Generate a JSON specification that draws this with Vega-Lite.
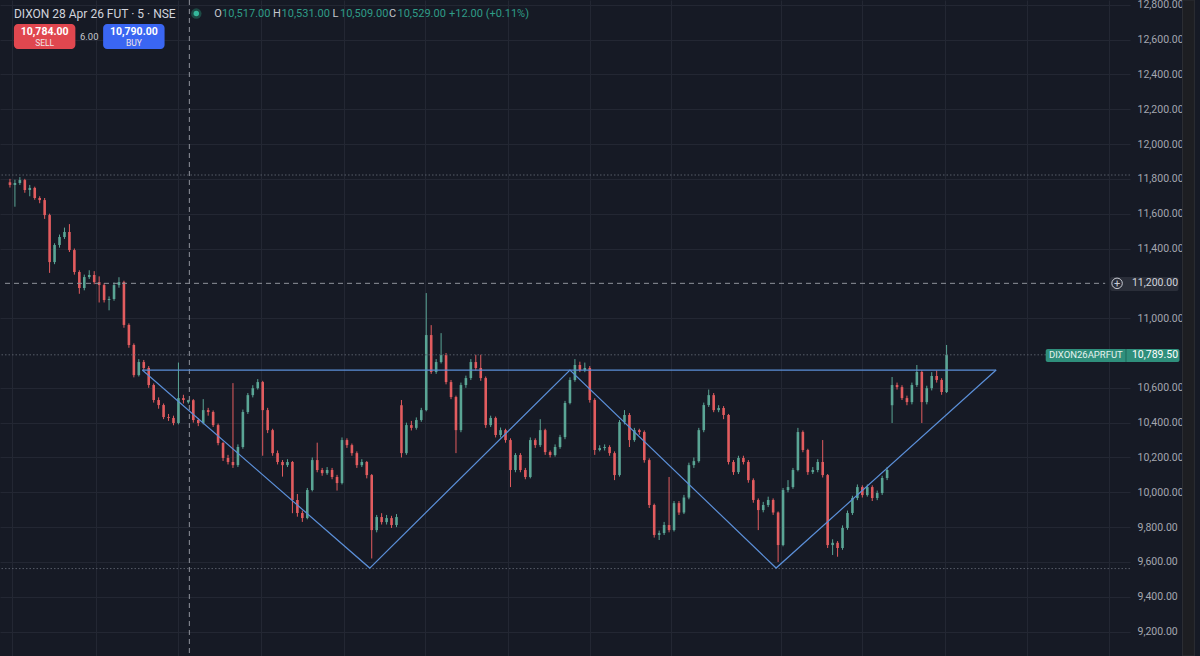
{
  "$schema": "https://vega.github.io/schema/vega-lite/v6.json",
  "width": 1130,
  "height": 656,
  "autosize": "none",
  "padding": {"left": 0, "top": 0, "right": 70, "bottom": 0},
  "background": "#161a25",
  "config": {"view": {"stroke": null}, "text": {"font": "Roboto"}},
  "datasets": {
    "candles": [
      {"t":1,"o":11780,"h":11800,"l":11750,"c":11765},
      {"t":2,"o":11765,"h":11795,"l":11640,"c":11776},
      {"t":3,"o":11776,"h":11810,"l":11765,"c":11793},
      {"t":4,"o":11793,"h":11800,"l":11720,"c":11736},
      {"t":5,"o":11736,"h":11765,"l":11700,"c":11748},
      {"t":6,"o":11748,"h":11755,"l":11680,"c":11690},
      {"t":7,"o":11690,"h":11700,"l":11660,"c":11678},
      {"t":8,"o":11678,"h":11690,"l":11570,"c":11592},
      {"t":9,"o":11592,"h":11600,"l":11260,"c":11322},
      {"t":10,"o":11322,"h":11430,"l":11310,"c":11420},
      {"t":11,"o":11420,"h":11480,"l":11405,"c":11466},
      {"t":12,"o":11466,"h":11520,"l":11455,"c":11495},
      {"t":13,"o":11495,"h":11540,"l":11380,"c":11391},
      {"t":14,"o":11391,"h":11400,"l":11250,"c":11265},
      {"t":15,"o":11265,"h":11275,"l":11140,"c":11173},
      {"t":16,"o":11173,"h":11250,"l":11160,"c":11236},
      {"t":17,"o":11236,"h":11275,"l":11225,"c":11248},
      {"t":18,"o":11248,"h":11270,"l":11195,"c":11207},
      {"t":19,"o":11207,"h":11240,"l":11090,"c":11190},
      {"t":20,"o":11190,"h":11200,"l":11090,"c":11104},
      {"t":21,"o":11104,"h":11125,"l":11045,"c":11110},
      {"t":22,"o":11110,"h":11205,"l":11100,"c":11190},
      {"t":23,"o":11190,"h":11235,"l":11175,"c":11207},
      {"t":24,"o":11207,"h":11215,"l":10945,"c":10961},
      {"t":25,"o":10961,"h":10970,"l":10830,"c":10846},
      {"t":26,"o":10846,"h":10855,"l":10660,"c":10673},
      {"t":27,"o":10673,"h":10765,"l":10665,"c":10748},
      {"t":28,"o":10748,"h":10760,"l":10700,"c":10714},
      {"t":29,"o":10714,"h":10725,"l":10600,"c":10616},
      {"t":30,"o":10616,"h":10625,"l":10515,"c":10530},
      {"t":31,"o":10530,"h":10545,"l":10480,"c":10501},
      {"t":32,"o":10501,"h":10510,"l":10420,"c":10432},
      {"t":33,"o":10432,"h":10450,"l":10410,"c":10427},
      {"t":34,"o":10427,"h":10440,"l":10385,"c":10398},
      {"t":35,"o":10398,"h":10745,"l":10390,"c":10541},
      {"t":36,"o":10541,"h":10560,"l":10510,"c":10530},
      {"t":37,"o":10517,"h":10531,"l":10509,"c":10529},
      {"t":38,"o":10529,"h":10535,"l":10400,"c":10415},
      {"t":39,"o":10415,"h":10425,"l":10380,"c":10398},
      {"t":40,"o":10398,"h":10535,"l":10390,"c":10472},
      {"t":41,"o":10472,"h":10485,"l":10440,"c":10461},
      {"t":42,"o":10461,"h":10470,"l":10375,"c":10386},
      {"t":43,"o":10386,"h":10395,"l":10270,"c":10283},
      {"t":44,"o":10283,"h":10290,"l":10180,"c":10197},
      {"t":45,"o":10197,"h":10215,"l":10160,"c":10174},
      {"t":46,"o":10174,"h":10627,"l":10140,"c":10156},
      {"t":47,"o":10156,"h":10275,"l":10145,"c":10260},
      {"t":48,"o":10260,"h":10475,"l":10250,"c":10461},
      {"t":49,"o":10461,"h":10570,"l":10450,"c":10558},
      {"t":50,"o":10558,"h":10615,"l":10545,"c":10598},
      {"t":51,"o":10598,"h":10650,"l":10590,"c":10633},
      {"t":52,"o":10633,"h":10640,"l":10210,"c":10472},
      {"t":53,"o":10472,"h":10485,"l":10340,"c":10357},
      {"t":54,"o":10357,"h":10365,"l":10210,"c":10225},
      {"t":55,"o":10225,"h":10240,"l":10160,"c":10174},
      {"t":56,"o":10174,"h":10185,"l":10090,"c":10156},
      {"t":57,"o":10156,"h":10190,"l":10145,"c":10174},
      {"t":58,"o":10174,"h":10180,"l":9880,"c":9956},
      {"t":59,"o":9956,"h":9990,"l":9860,"c":9881},
      {"t":60,"o":9881,"h":9895,"l":9830,"c":9852},
      {"t":61,"o":9852,"h":10025,"l":9845,"c":10013},
      {"t":62,"o":10013,"h":10200,"l":10005,"c":10185},
      {"t":63,"o":10185,"h":10285,"l":10115,"c":10128},
      {"t":64,"o":10128,"h":10140,"l":10095,"c":10110},
      {"t":65,"o":10110,"h":10145,"l":10100,"c":10128},
      {"t":66,"o":10128,"h":10140,"l":10075,"c":10088},
      {"t":67,"o":10088,"h":10100,"l":10010,"c":10053},
      {"t":68,"o":10053,"h":10315,"l":10045,"c":10300},
      {"t":69,"o":10300,"h":10310,"l":10255,"c":10271},
      {"t":70,"o":10271,"h":10280,"l":10210,"c":10225},
      {"t":71,"o":10225,"h":10235,"l":10140,"c":10156},
      {"t":72,"o":10156,"h":10190,"l":10145,"c":10174},
      {"t":73,"o":10174,"h":10180,"l":10080,"c":10099},
      {"t":74,"o":10099,"h":10105,"l":9620,"c":9783},
      {"t":75,"o":9783,"h":9870,"l":9770,"c":9858},
      {"t":76,"o":9858,"h":9880,"l":9815,"c":9829},
      {"t":77,"o":9829,"h":9870,"l":9815,"c":9852},
      {"t":78,"o":9852,"h":9865,"l":9795,"c":9812},
      {"t":79,"o":9812,"h":9875,"l":9800,"c":9858},
      {"t":80,"o":10500,"h":10530,"l":10200,"c":10225},
      {"t":81,"o":10225,"h":10400,"l":10215,"c":10386},
      {"t":82,"o":10386,"h":10410,"l":10355,"c":10370},
      {"t":83,"o":10370,"h":10430,"l":10360,"c":10415},
      {"t":84,"o":10415,"h":10485,"l":10405,"c":10472},
      {"t":85,"o":10472,"h":11144,"l":10465,"c":10903},
      {"t":86,"o":10903,"h":10960,"l":10680,"c":10691},
      {"t":87,"o":10691,"h":10765,"l":10680,"c":10748},
      {"t":88,"o":10748,"h":10914,"l":10740,"c":10788},
      {"t":89,"o":10788,"h":10800,"l":10620,"c":10633},
      {"t":90,"o":10633,"h":10645,"l":10535,"c":10547},
      {"t":91,"o":10547,"h":10555,"l":10225,"c":10357},
      {"t":92,"o":10357,"h":10630,"l":10345,"c":10616},
      {"t":93,"o":10616,"h":10670,"l":10600,"c":10656},
      {"t":94,"o":10656,"h":10765,"l":10645,"c":10748},
      {"t":95,"o":10748,"h":10790,"l":10700,"c":10714},
      {"t":96,"o":10714,"h":10790,"l":10640,"c":10656},
      {"t":97,"o":10656,"h":10665,"l":10370,"c":10386},
      {"t":98,"o":10386,"h":10440,"l":10375,"c":10427},
      {"t":99,"o":10427,"h":10435,"l":10315,"c":10329},
      {"t":100,"o":10329,"h":10372,"l":10315,"c":10357},
      {"t":101,"o":10357,"h":10365,"l":10285,"c":10300},
      {"t":102,"o":10300,"h":10310,"l":10030,"c":10128},
      {"t":103,"o":10128,"h":10225,"l":10115,"c":10214},
      {"t":104,"o":10214,"h":10225,"l":10115,"c":10128},
      {"t":105,"o":10128,"h":10140,"l":10075,"c":10088},
      {"t":106,"o":10088,"h":10315,"l":10080,"c":10300},
      {"t":107,"o":10300,"h":10310,"l":10255,"c":10271},
      {"t":108,"o":10271,"h":10420,"l":10260,"c":10357},
      {"t":109,"o":10357,"h":10365,"l":10215,"c":10231},
      {"t":110,"o":10231,"h":10240,"l":10200,"c":10214},
      {"t":111,"o":10214,"h":10275,"l":10205,"c":10260},
      {"t":112,"o":10260,"h":10330,"l":10250,"c":10317},
      {"t":113,"o":10317,"h":10525,"l":10305,"c":10513},
      {"t":114,"o":10513,"h":10660,"l":10505,"c":10645},
      {"t":115,"o":10645,"h":10765,"l":10635,"c":10731},
      {"t":116,"o":10731,"h":10750,"l":10690,"c":10702},
      {"t":117,"o":10702,"h":10745,"l":10690,"c":10714},
      {"t":118,"o":10714,"h":10725,"l":10515,"c":10530},
      {"t":119,"o":10530,"h":10540,"l":10215,"c":10243},
      {"t":120,"o":10243,"h":10270,"l":10235,"c":10254},
      {"t":121,"o":10254,"h":10275,"l":10240,"c":10260},
      {"t":122,"o":10260,"h":10270,"l":10210,"c":10225},
      {"t":123,"o":10225,"h":10235,"l":10070,"c":10099},
      {"t":124,"o":10099,"h":10415,"l":10090,"c":10403},
      {"t":125,"o":10403,"h":10472,"l":10390,"c":10444},
      {"t":126,"o":10444,"h":10455,"l":10260,"c":10300},
      {"t":127,"o":10300,"h":10370,"l":10290,"c":10357},
      {"t":128,"o":10357,"h":10365,"l":10330,"c":10346},
      {"t":129,"o":10346,"h":10355,"l":10170,"c":10185},
      {"t":130,"o":10185,"h":10195,"l":9910,"c":9927},
      {"t":131,"o":9927,"h":9935,"l":9740,"c":9755},
      {"t":132,"o":9755,"h":9780,"l":9726,"c":9766},
      {"t":133,"o":9766,"h":9830,"l":9755,"c":9812},
      {"t":134,"o":9812,"h":10088,"l":9770,"c":9783},
      {"t":135,"o":9783,"h":9950,"l":9775,"c":9938},
      {"t":136,"o":9938,"h":9950,"l":9870,"c":9884},
      {"t":137,"o":9884,"h":9985,"l":9875,"c":9970},
      {"t":138,"o":9970,"h":10170,"l":9960,"c":10156},
      {"t":139,"o":10156,"h":10200,"l":10140,"c":10179},
      {"t":140,"o":10179,"h":10370,"l":10170,"c":10357},
      {"t":141,"o":10357,"h":10515,"l":10345,"c":10501},
      {"t":142,"o":10501,"h":10590,"l":10490,"c":10558},
      {"t":143,"o":10558,"h":10570,"l":10460,"c":10472},
      {"t":144,"o":10472,"h":10500,"l":10460,"c":10484},
      {"t":145,"o":10484,"h":10495,"l":10420,"c":10444},
      {"t":146,"o":10444,"h":10450,"l":10160,"c":10174},
      {"t":147,"o":10174,"h":10185,"l":10100,"c":10116},
      {"t":148,"o":10116,"h":10210,"l":10105,"c":10197},
      {"t":149,"o":10197,"h":10210,"l":10160,"c":10174},
      {"t":150,"o":10174,"h":10185,"l":10055,"c":10070},
      {"t":151,"o":10070,"h":10080,"l":9940,"c":9956},
      {"t":152,"o":9956,"h":9965,"l":9783,"c":9898},
      {"t":153,"o":9898,"h":9945,"l":9885,"c":9927},
      {"t":154,"o":9927,"h":9975,"l":9915,"c":9956},
      {"t":155,"o":9956,"h":9965,"l":9870,"c":9884},
      {"t":156,"o":9884,"h":9890,"l":9600,"c":9697},
      {"t":157,"o":9697,"h":10025,"l":9690,"c":10013},
      {"t":158,"o":10013,"h":10070,"l":10000,"c":10030},
      {"t":159,"o":10030,"h":10140,"l":10020,"c":10128},
      {"t":160,"o":10128,"h":10370,"l":10120,"c":10346},
      {"t":161,"o":10346,"h":10355,"l":10230,"c":10243},
      {"t":162,"o":10243,"h":10250,"l":10100,"c":10116},
      {"t":163,"o":10116,"h":10145,"l":10105,"c":10128},
      {"t":164,"o":10128,"h":10190,"l":10115,"c":10174},
      {"t":165,"o":10174,"h":10300,"l":10085,"c":10099},
      {"t":166,"o":10099,"h":10105,"l":9680,"c":9697},
      {"t":167,"o":9697,"h":9730,"l":9640,"c":9710},
      {"t":168,"o":9710,"h":9720,"l":9630,"c":9680},
      {"t":169,"o":9680,"h":9810,"l":9670,"c":9795},
      {"t":170,"o":9795,"h":9895,"l":9785,"c":9881},
      {"t":171,"o":9881,"h":9980,"l":9870,"c":9967},
      {"t":172,"o":9967,"h":10045,"l":9955,"c":10030},
      {"t":173,"o":10030,"h":10040,"l":9970,"c":9984},
      {"t":174,"o":9984,"h":10045,"l":9975,"c":10030},
      {"t":175,"o":10030,"h":10040,"l":9950,"c":9967},
      {"t":176,"o":9967,"h":10010,"l":9955,"c":9996},
      {"t":177,"o":9996,"h":10095,"l":9985,"c":10082},
      {"t":178,"o":10082,"h":10145,"l":10070,"c":10128},
      {"t":179,"o":10500,"h":10662,"l":10398,"c":10616},
      {"t":180,"o":10616,"h":10630,"l":10590,"c":10604},
      {"t":181,"o":10604,"h":10615,"l":10530,"c":10541},
      {"t":182,"o":10541,"h":10555,"l":10500,"c":10518},
      {"t":183,"o":10518,"h":10630,"l":10505,"c":10616},
      {"t":184,"o":10616,"h":10731,"l":10605,"c":10691},
      {"t":185,"o":10691,"h":10700,"l":10398,"c":10518},
      {"t":186,"o":10518,"h":10612,"l":10505,"c":10598},
      {"t":187,"o":10598,"h":10690,"l":10585,"c":10668},
      {"t":188,"o":10668,"h":10700,"l":10630,"c":10645},
      {"t":189,"o":10645,"h":10655,"l":10560,"c":10576},
      {"t":190,"o":10576,"h":10846,"l":10570,"c":10789.5}
    ],
    "dotted": [{"p": 11822}, {"p": 10789.5}, {"p": 9562}],
    "crossH": [{"p": 11200, "t": 0, "t2": 222}],
    "crossV": [{"t": 37.2}],
    "pattern": [
      {"k": 1, "t": 27.7, "p": 10702},
      {"k": 2, "t": 73.6, "p": 9565},
      {"k": 3, "t": 114, "p": 10702},
      {"k": 4, "t": 155.6, "p": 9565},
      {"k": 5, "t": 200, "p": 10702}
    ],
    "neck": [{"t": 27.7, "t2": 200, "p": 10702}],
    "title": [{"t": 1.8, "p": 12747, "label": "DIXON 28 Apr 26 FUT · 5 · NSE"}],
    "dot": [{"t": 38.6, "p": 12749}],
    "ohlcKeys": [
      {"t": 42.2, "p": 12747, "label": "O"},
      {"t": 54.1, "p": 12747, "label": "H"},
      {"t": 66.1, "p": 12747, "label": "L"},
      {"t": 77.5, "p": 12747, "label": "C"}
    ],
    "ohlcVals": [
      {"t": 43.8, "p": 12747, "label": "10,517.00"},
      {"t": 55.8, "p": 12747, "label": "10,531.00"},
      {"t": 67.6, "p": 12747, "label": "10,509.00"},
      {"t": 79.2, "p": 12747, "label": "10,529.00"},
      {"t": 89.6, "p": 12747, "label": "+12.00 (+0.11%)"}
    ],
    "sellBtn": [{"t": 1.8, "t2": 14.2, "p": 12689, "p2": 12546}],
    "buyBtn": [{"t": 19.8, "t2": 32.2, "p": 12689, "p2": 12546}],
    "btnPrice": [{"t": 8, "p": 12643, "label": "10,784.00"}, {"t": 26, "p": 12643, "label": "10,790.00"}],
    "btnSide": [{"t": 8, "p": 12580, "label": "SELL"}, {"t": 26, "p": 12580, "label": "BUY"}],
    "spread": [{"t": 17, "p": 12614, "label": "6.00"}],
    "lastLabel": [{"t": 210, "t2": 237, "p": 10823, "p2": 10748}],
    "lastDiv": [{"t": 226.2, "p": 10823, "p2": 10748}],
    "lastName": [{"t": 218.1, "p": 10786, "label": "DIXON26APRFUT"}],
    "lastPrice": [{"t": 227.4, "p": 10786, "label": "10,789.50"}],
    "crossLabel": [{"t": 223, "t2": 236.8, "p": 11236, "p2": 11156}],
    "crossPrice": [{"t": 227.4, "p": 11200, "label": "11,200.00"}],
    "plusIcon": [{"t": 224.4, "p": 11200}],
    "plusSign": [{"t": 224.4, "p": 11200, "label": "+"}],
    "strip": [{"t": 237.6, "t2": 240, "p": 9060, "p2": 12827}]
  },
  "layer": [
    {
      "data": {"name": "candles"},
      "mark": {"type": "rule", "strokeWidth": 1},
      "encoding": {
        "x": {"field": "t", "type": "quantitative",
              "scale": {"domain": [0, 226], "nice": false, "zero": false},
              "axis": {"title": null, "labels": false, "ticks": false, "domain": false, "grid": true,
                       "gridColor": "#232733", "gridWidth": 1,
                       "values": [1.4, 18.4, 35, 51.6, 68.4, 84.8, 101.4, 118, 134.4, 156.6, 173, 189.6, 206.2, 222.8]}},
        "y": {"field": "h", "type": "quantitative",
              "scale": {"domain": [9060, 12827], "nice": false, "zero": false},
              "axis": {"title": null, "orient": "right", "format": ",.2f", "ticks": false, "domain": false,
                       "grid": true, "gridColor": "#232733", "gridWidth": 1,
                       "labelColor": "#a4a7b0", "labelFont": "Roboto", "labelFontSize": 10.5, "labelPadding": 7,
                       "values": [9200, 9400, 9600, 9800, 10000, 10200, 10400, 10600, 11000, 11400, 11600, 11800, 12000, 12200, 12400, 12600, 12800]}},
        "y2": {"field": "l"},
        "color": {"condition": {"test": "datum.c >= datum.o", "value": "#5aa595"}, "value": "#e25c5f"}
      }
    },
    {
      "data": {"name": "candles"},
      "mark": {"type": "bar", "width": 2.6},
      "encoding": {
        "x": {"field": "t", "type": "quantitative"},
        "y": {"field": "o", "type": "quantitative"},
        "y2": {"field": "c"},
        "color": {"condition": {"test": "datum.c >= datum.o", "value": "#5aa595"}, "value": "#e25c5f"}
      }
    },
    {
      "data": {"name": "dotted"},
      "mark": {"type": "rule", "color": "#575c68", "strokeWidth": 1, "strokeDash": [1.5, 2]},
      "encoding": {"y": {"field": "p", "type": "quantitative"}}
    },
    {
      "data": {"name": "crossH"},
      "mark": {"type": "rule", "color": "#8f929b", "strokeWidth": 1, "strokeDash": [5, 4]},
      "encoding": {"x": {"field": "t", "type": "quantitative"}, "x2": {"field": "t2"}, "y": {"field": "p", "type": "quantitative"}}
    },
    {
      "data": {"name": "crossV"},
      "mark": {"type": "rule", "color": "#8f929b", "strokeWidth": 1, "strokeDash": [5, 4]},
      "encoding": {"x": {"field": "t", "type": "quantitative"}}
    },
    {
      "data": {"name": "pattern"},
      "mark": {"type": "line", "color": "#5b8fd8", "strokeWidth": 1.2},
      "encoding": {"x": {"field": "t", "type": "quantitative"}, "y": {"field": "p", "type": "quantitative"}, "order": {"field": "k"}}
    },
    {
      "data": {"name": "neck"},
      "mark": {"type": "rule", "color": "#5b8fd8", "strokeWidth": 1.2},
      "encoding": {"x": {"field": "t", "type": "quantitative"}, "x2": {"field": "t2"}, "y": {"field": "p", "type": "quantitative"}}
    },
    {
      "data": {"name": "title"},
      "mark": {"type": "text", "align": "left", "baseline": "middle", "fontSize": 12, "color": "#d1d4dc"},
      "encoding": {"x": {"field": "t", "type": "quantitative"}, "y": {"field": "p", "type": "quantitative"}, "text": {"field": "label"}}
    },
    {
      "data": {"name": "dot"},
      "mark": {"type": "point", "filled": true, "size": 110, "color": "#1d4a45", "opacity": 1},
      "encoding": {"x": {"field": "t", "type": "quantitative"}, "y": {"field": "p", "type": "quantitative"}}
    },
    {
      "data": {"name": "dot"},
      "mark": {"type": "point", "filled": true, "size": 30, "color": "#35b89c", "opacity": 1},
      "encoding": {"x": {"field": "t", "type": "quantitative"}, "y": {"field": "p", "type": "quantitative"}}
    },
    {
      "data": {"name": "ohlcKeys"},
      "mark": {"type": "text", "align": "left", "baseline": "middle", "fontSize": 11, "color": "#c3c6ce"},
      "encoding": {"x": {"field": "t", "type": "quantitative"}, "y": {"field": "p", "type": "quantitative"}, "text": {"field": "label"}}
    },
    {
      "data": {"name": "ohlcVals"},
      "mark": {"type": "text", "align": "left", "baseline": "middle", "fontSize": 11, "color": "#2f9c87"},
      "encoding": {"x": {"field": "t", "type": "quantitative"}, "y": {"field": "p", "type": "quantitative"}, "text": {"field": "label"}}
    },
    {
      "data": {"name": "sellBtn"},
      "mark": {"type": "rect", "color": "#e0474f", "cornerRadius": 4},
      "encoding": {"x": {"field": "t", "type": "quantitative"}, "x2": {"field": "t2"}, "y": {"field": "p", "type": "quantitative"}, "y2": {"field": "p2"}}
    },
    {
      "data": {"name": "buyBtn"},
      "mark": {"type": "rect", "color": "#3a66f2", "cornerRadius": 4},
      "encoding": {"x": {"field": "t", "type": "quantitative"}, "x2": {"field": "t2"}, "y": {"field": "p", "type": "quantitative"}, "y2": {"field": "p2"}}
    },
    {
      "data": {"name": "btnPrice"},
      "mark": {"type": "text", "align": "center", "baseline": "middle", "fontSize": 10.5, "fontWeight": "bold", "color": "#ffffff"},
      "encoding": {"x": {"field": "t", "type": "quantitative"}, "y": {"field": "p", "type": "quantitative"}, "text": {"field": "label"}}
    },
    {
      "data": {"name": "btnSide"},
      "mark": {"type": "text", "align": "center", "baseline": "middle", "fontSize": 8.5, "color": "#f1e4e6"},
      "encoding": {"x": {"field": "t", "type": "quantitative"}, "y": {"field": "p", "type": "quantitative"}, "text": {"field": "label"}}
    },
    {
      "data": {"name": "spread"},
      "mark": {"type": "text", "align": "center", "baseline": "middle", "fontSize": 9.5, "color": "#c3c6ce"},
      "encoding": {"x": {"field": "t", "type": "quantitative"}, "y": {"field": "p", "type": "quantitative"}, "text": {"field": "label"}}
    },
    {
      "data": {"name": "lastLabel"},
      "mark": {"type": "rect", "color": "#2f8f7c", "cornerRadius": 2},
      "encoding": {"x": {"field": "t", "type": "quantitative"}, "x2": {"field": "t2"}, "y": {"field": "p", "type": "quantitative"}, "y2": {"field": "p2"}}
    },
    {
      "data": {"name": "lastDiv"},
      "mark": {"type": "rule", "color": "#1f6a5c", "strokeWidth": 1},
      "encoding": {"x": {"field": "t", "type": "quantitative"}, "y": {"field": "p", "type": "quantitative"}, "y2": {"field": "p2"}}
    },
    {
      "data": {"name": "lastName"},
      "mark": {"type": "text", "align": "center", "baseline": "middle", "fontSize": 9.5, "color": "#e6f2ef"},
      "encoding": {"x": {"field": "t", "type": "quantitative"}, "y": {"field": "p", "type": "quantitative"}, "text": {"field": "label"}}
    },
    {
      "data": {"name": "lastPrice"},
      "mark": {"type": "text", "align": "left", "baseline": "middle", "fontSize": 10.5, "color": "#ffffff"},
      "encoding": {"x": {"field": "t", "type": "quantitative"}, "y": {"field": "p", "type": "quantitative"}, "text": {"field": "label"}}
    },
    {
      "data": {"name": "crossLabel"},
      "mark": {"type": "rect", "color": "#2a2e39", "cornerRadius": 2},
      "encoding": {"x": {"field": "t", "type": "quantitative"}, "x2": {"field": "t2"}, "y": {"field": "p", "type": "quantitative"}, "y2": {"field": "p2"}}
    },
    {
      "data": {"name": "crossPrice"},
      "mark": {"type": "text", "align": "left", "baseline": "middle", "fontSize": 10.5, "color": "#d1d4dc"},
      "encoding": {"x": {"field": "t", "type": "quantitative"}, "y": {"field": "p", "type": "quantitative"}, "text": {"field": "label"}}
    },
    {
      "data": {"name": "plusIcon"},
      "mark": {"type": "point", "shape": "circle", "filled": false, "size": 110, "stroke": "#c9ccd4", "strokeWidth": 1, "opacity": 1},
      "encoding": {"x": {"field": "t", "type": "quantitative"}, "y": {"field": "p", "type": "quantitative"}}
    },
    {
      "data": {"name": "plusSign"},
      "mark": {"type": "text", "align": "center", "baseline": "middle", "fontSize": 11, "color": "#c9ccd4", "dy": 0.5},
      "encoding": {"x": {"field": "t", "type": "quantitative"}, "y": {"field": "p", "type": "quantitative"}, "text": {"field": "label"}}
    },
    {
      "data": {"name": "strip"},
      "mark": {"type": "rect", "color": "#1d1e22", "stroke": "#2c2e34", "strokeWidth": 1},
      "encoding": {"x": {"field": "t", "type": "quantitative"}, "x2": {"field": "t2"}, "y": {"field": "p", "type": "quantitative"}, "y2": {"field": "p2"}}
    }
  ]
}
